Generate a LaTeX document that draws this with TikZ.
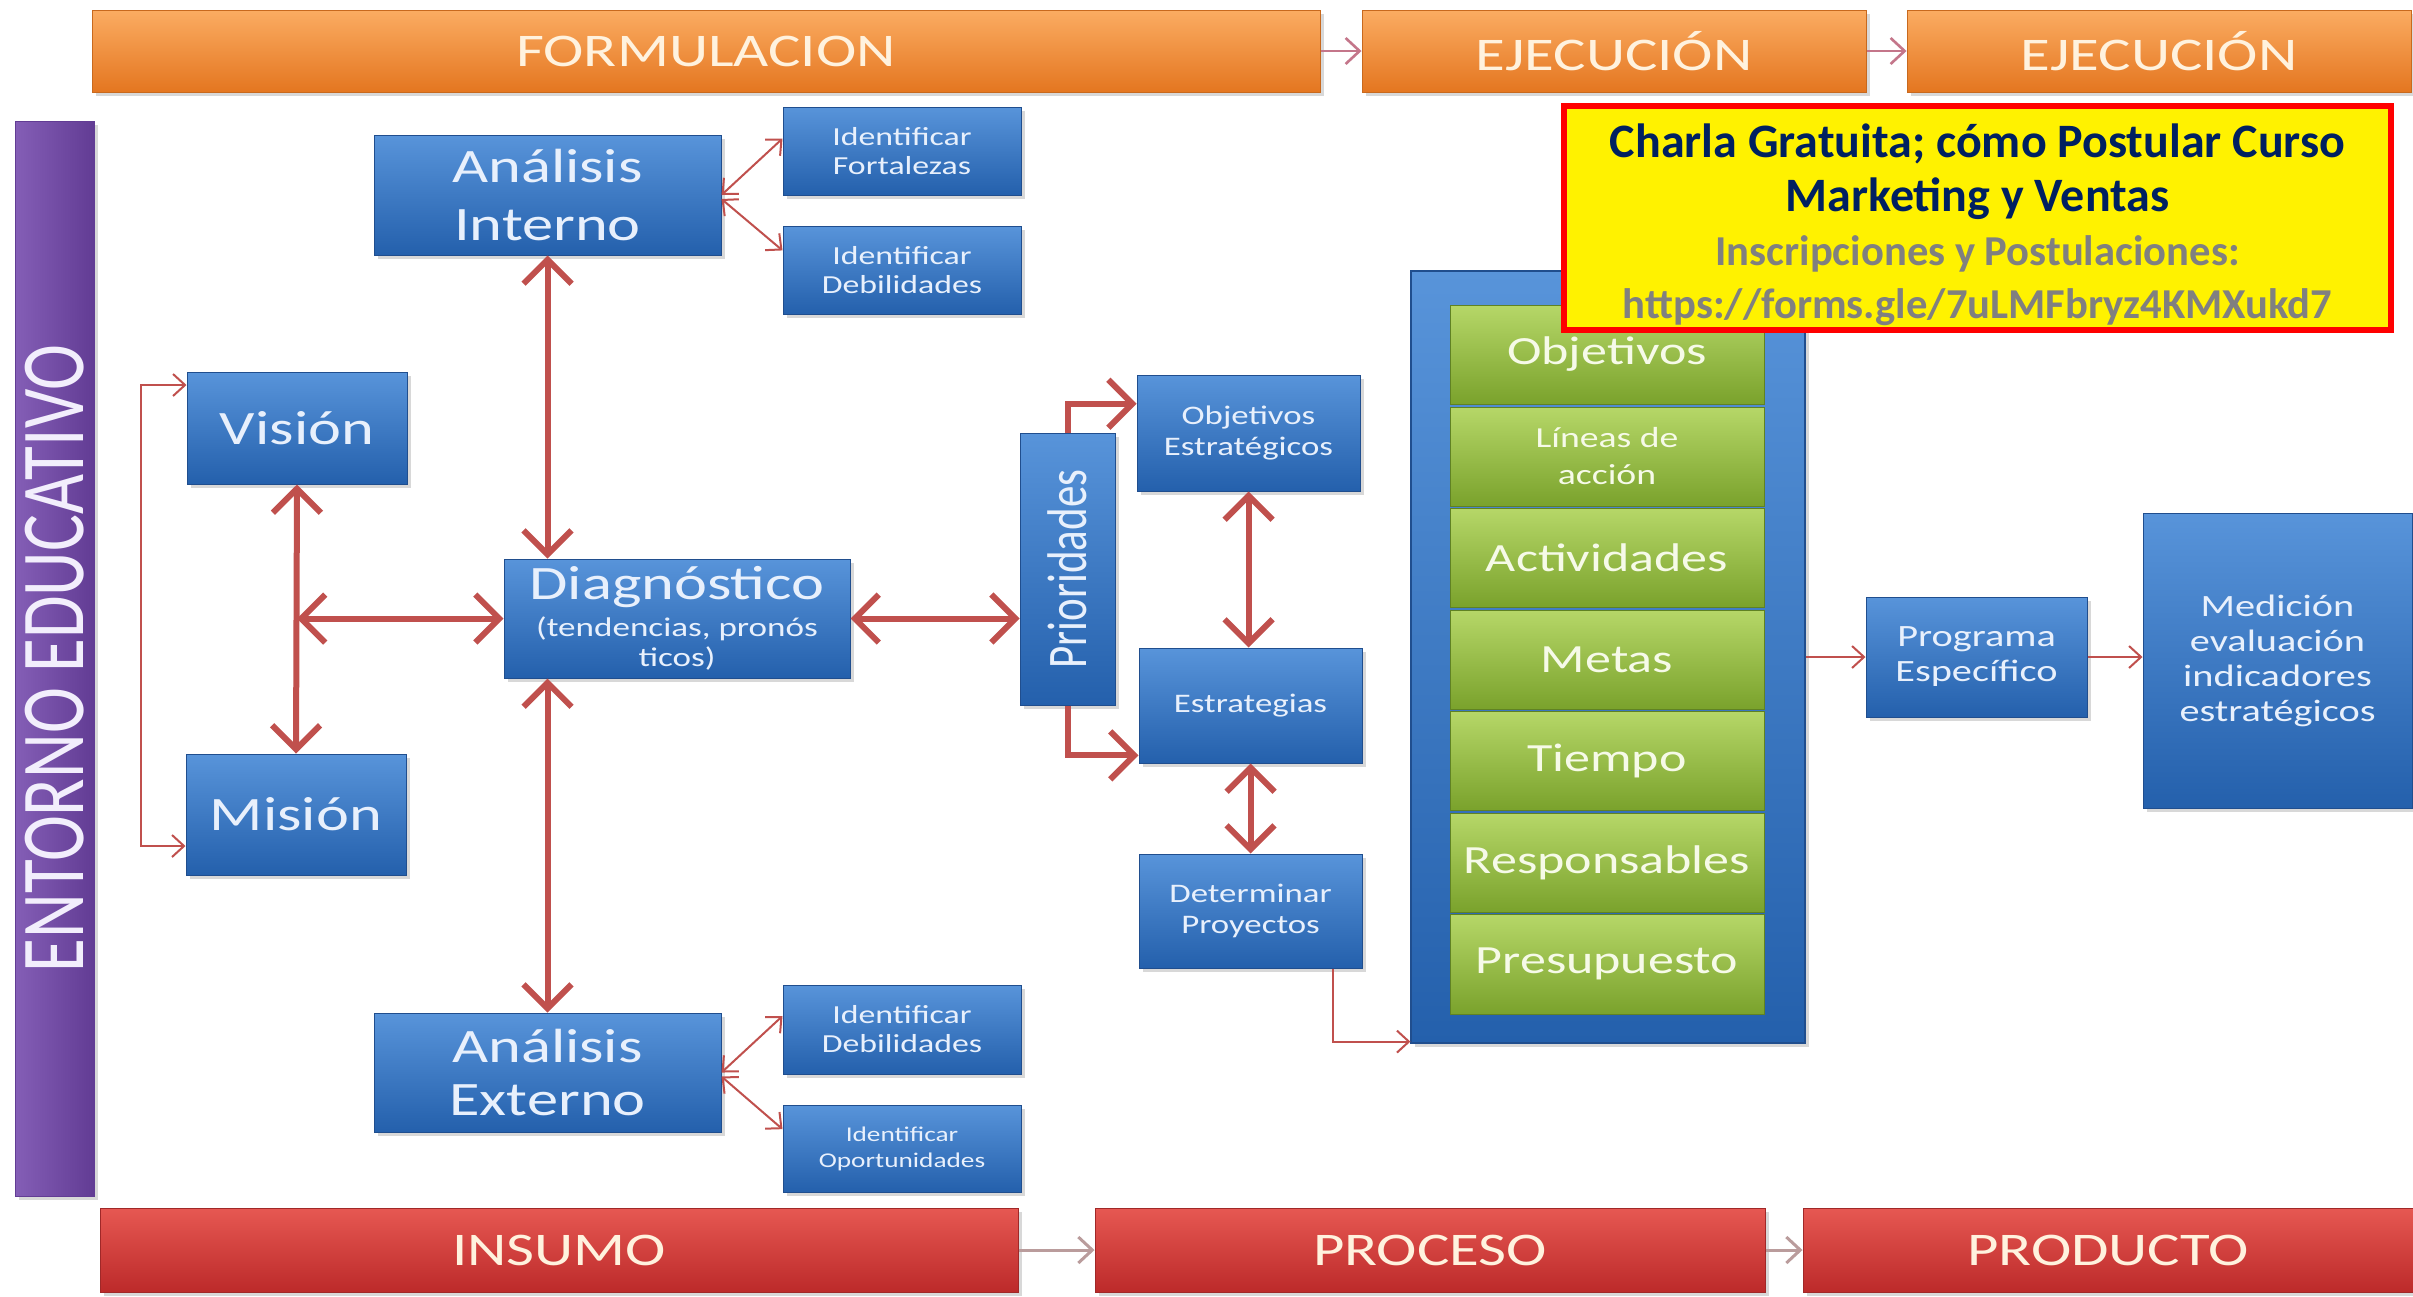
\documentclass[tikz,border=0pt]{standalone}
\usepackage{fontspec}
\usepackage{graphicx}
\setmainfont{Carlito}
\newfontfamily\stf{Carlito}[FakeStretch=1.3]
\usetikzlibrary{arrows.meta,shadows,calc}
\definecolor{orT}{RGB}{251,172,98}
\definecolor{orB}{RGB}{228,118,32}
\definecolor{orE}{RGB}{200,105,30}
\definecolor{blT}{RGB}{88,148,218}
\definecolor{blB}{RGB}{36,96,172}
\definecolor{blE}{RGB}{32,78,142}
\definecolor{grT}{RGB}{182,215,104}
\definecolor{grB}{RGB}{122,162,44}
\definecolor{grE}{RGB}{96,130,35}
\definecolor{rdT}{RGB}{230,88,82}
\definecolor{rdB}{RGB}{188,42,42}
\definecolor{rdE}{RGB}{160,40,40}
\definecolor{puL}{RGB}{132,94,182}
\definecolor{puR}{RGB}{98,60,148}
\definecolor{arr}{RGB}{192,80,77}
\definecolor{harr}{RGB}{196,118,138}
\definecolor{barr}{RGB}{186,156,156}
\definecolor{txt}{RGB}{232,240,252}
\definecolor{htxt}{RGB}{255,242,222}
\definecolor{gtxtc}{RGB}{246,250,232}
\definecolor{enttxt}{RGB}{242,238,252}
\definecolor{navy}{RGB}{0,32,96}
\definecolor{graytx}{RGB}{128,128,128}
\newcommand\fBig{\stf\fontsize{24}{29}\selectfont}
\newcommand\fSm{\stf\fontsize{13}{14.5}\selectfont}
\newcommand\fTn{\stf\fontsize{10.5}{13}\selectfont}
\newcommand\fMd{\stf\fontsize{13.4}{15.5}\selectfont}
\newcommand\fPr{\stf\fontsize{15.5}{17.5}\selectfont}
\newcommand\fHd{\stf\fontsize{23.4}{28}\selectfont}
\newcommand\fGr{\stf\fontsize{20}{24}\selectfont}
\newcommand\fLn{\stf\fontsize{14.5}{18.5}\selectfont}
\newcommand\mkbox[7]{\node[#6, minimum width={(#4-#2)*0.5pt}, minimum height={(#5-#3)*0.5pt}] (#1) at ({(#2+#4)/2},{(#3+#5)/2}) {#7};}
\tikzset{
  shd/.style={drop shadow={shadow xshift=2pt, shadow yshift=-2pt, opacity=0.3}},
  bluebox/.style={shd, draw=blE, line width=0.5pt, top color=blT, bottom color=blB, text=txt, align=center, inner sep=0pt},
  contbox/.style={shd, draw=blE, line width=0.6pt, top color=blT, bottom color=blB, inner sep=0pt},
  greenbox/.style={draw=grE, line width=0.4pt, top color=grT, bottom color=grB, text=gtxtc, align=center, inner sep=0pt, font=\fGr},
  orbar/.style={shd, draw=orE, line width=0.5pt, top color=orT, bottom color=orB, text=htxt, inner sep=0pt, font=\fHd},
  rdbar/.style={shd, draw=rdE, line width=0.5pt, top color=rdT, bottom color=rdB, text=htxt, inner sep=0pt, font=\fHd},
  pubar/.style={shd, draw=puR, line width=0.5pt, left color=puL, right color=puR, inner sep=0pt},
  adbox/.style={draw=red, line width=3pt, fill=yellow, align=center, inner sep=0pt},
  thk2/.style={draw=arr, line width=3pt, arrows={Straight Barb[length=12pt,width=24pt]-Straight Barb[length=12pt,width=24pt]}},
  thk1/.style={draw=arr, line width=3pt, arrows={-Straight Barb[length=12pt,width=24pt]}},
  thn2/.style={draw=arr, line width=1pt, arrows={Straight Barb[length=6pt,width=11pt]-Straight Barb[length=6pt,width=11pt]}},
  thn1/.style={draw=arr, line width=1pt, arrows={-Straight Barb[length=6pt,width=11pt]}},
  hdrarr/.style={draw=harr, line width=1.3pt, arrows={-Straight Barb[length=7pt,width=13pt]}},
  botarr/.style={draw=barr, line width=1.5pt, arrows={-Straight Barb[length=7pt,width=13pt]}}
}
\begin{document}
\begin{tikzpicture}[x=0.5pt,y=-0.5pt]
\useasboundingbox (0,0) rectangle (2413,1296);
\fill[white] (0,0) rectangle (2413,1296);
% header bars
\mkbox{form}{92}{10}{1320}{92}{orbar}{FORMULACION}
\mkbox{ejA}{1362}{10}{1866}{92}{orbar}{EJECUCIÓN}
\mkbox{ejB}{1907}{10}{2411}{92}{orbar}{EJECUCIÓN}
\draw[hdrarr] (form.east) -- (ejA.west);
\draw[hdrarr] (ejA.east) -- (ejB.west);
% bottom bars
\mkbox{ins}{100}{1208}{1018}{1292}{rdbar}{INSUMO}
\mkbox{pro}{1095}{1208}{1765}{1292}{rdbar}{PROCESO}
\mkbox{prd}{1803}{1208}{2413}{1292}{rdbar}{PRODUCTO}
\draw[botarr] (ins.east) -- (pro.west);
\draw[botarr] (pro.east) -- (prd.west);
% side bar
\mkbox{ent}{15}{121}{94}{1196}{pubar}{}
\node[rotate=90, text=enttxt, inner sep=0pt] (entl) at (ent.center) {\scalebox{1}[1.3]{\fontsize{34.6}{40}\selectfont ENTORNO EDUCATIVO}};
% left part
\mkbox{ai}{374}{135}{721}{255}{bluebox, font=\fBig}{Análisis\\Interno}
\mkbox{ifo}{783}{107}{1021}{195}{bluebox, font=\fSm}{Identificar\\Fortalezas}
\mkbox{ide}{783}{226}{1021}{314}{bluebox, font=\fSm}{Identificar\\Debilidades}
\mkbox{vis}{187}{372}{407}{484}{bluebox, font=\fBig}{Visión}
\mkbox{mis}{186}{754}{406}{875}{bluebox, font=\fBig}{Misión}
\mkbox{dia}{504}{559}{850}{678}{bluebox, font=\stf\fontsize{13.5}{15}\selectfont}{{\fBig Diagnóstico}\\[3.5pt](tendencias, pronós\\ticos)}
\mkbox{ae}{374}{1013}{721}{1132}{bluebox, font=\stf\fontsize{24}{26.5}\selectfont}{Análisis\\Externo}
\mkbox{ede}{783}{985}{1021}{1074}{bluebox, font=\fSm}{Identificar\\Debilidades}
\mkbox{eop}{783}{1105}{1021}{1192}{bluebox, font=\fTn}{Identificar\\Oportunidades}
% middle
\mkbox{pri}{1020}{433}{1115}{705}{bluebox}{}
\node[rotate=90, text=txt, inner sep=0pt] (pril) at (pri.center) {\scalebox{1}[1.3]{\fontsize{21.5}{24}\selectfont Prioridades}};
\mkbox{obj}{1137}{375}{1360}{491}{bluebox, font=\fMd}{Objetivos\\Estratégicos}
\mkbox{est}{1139}{648}{1362}{763}{bluebox, font=\fMd}{Estrategias}
\mkbox{dpr}{1139}{854}{1362}{968}{bluebox, font=\fMd}{Determinar\\Proyectos}
% container
\mkbox{cont}{1411}{271}{1805}{1043}{contbox}{}
\mkbox{r1}{1450}{305}{1764}{404}{greenbox}{Objetivos}
\mkbox{r2}{1450}{407}{1764}{506}{greenbox, font=\fLn}{Líneas de\\acción}
\mkbox{r3}{1450}{508}{1764}{607}{greenbox}{Actividades}
\mkbox{r4}{1450}{610}{1764}{709}{greenbox}{Metas}
\mkbox{r5}{1450}{711}{1764}{810}{greenbox}{Tiempo}
\mkbox{r6}{1450}{813}{1764}{912}{greenbox}{Responsables}
\mkbox{r7}{1450}{914}{1764}{1014}{greenbox}{Presupuesto}
% right
\mkbox{prg}{1866}{597}{2087}{717}{bluebox, font=\fPr}{Programa\\Específico}
\mkbox{med}{2143}{513}{2412}{808}{bluebox, font=\fPr}{Medición\\evaluación\\indicadores\\estratégicos}
% thick arrows
\draw[thk2] (vis.south) -- (mis.north);
\coordinate (vm) at (vis.south |- dia.west);
\draw[thk2] (vm) -- (dia.west);
\draw[thk2] (ai.south) -- (ai.south |- dia.north);
\draw[thk2] (ae.north) -- (ae.north |- dia.south);
\draw[thk2] (dia.east) -- (dia.east -| pri.west);
\draw[thk1] (pri.north) |- ($(obj.north west)!0.25!(obj.south west)$);
\draw[thk1] (pri.south) |- ($(est.north west)!0.93!(est.south west)$);
\draw[thk2] (obj.south) -- (obj.south |- est.north);
\draw[thk2] (est.south) -- (est.south |- dpr.north);
% thin arrows
\draw[thn1] ($(dpr.south west)!0.87!(dpr.south east)$) |- ([yshift=1pt]cont.south west);
\draw[thn1] (cont.east |- prg.west) -- (prg.west);
\draw[thn1] (prg.east) -- (prg.east -| med.west);
\draw[thn2] (ai.east) -- ($(ifo.north west)!0.36!(ifo.south west)$);
\draw[thn2] ([yshift=-2pt]ai.east) -- ($(ide.north west)!0.28!(ide.south west)$);
\draw[thn2] (ae.east) -- ($(ede.north west)!0.35!(ede.south west)$);
\draw[thn2] ([yshift=-2pt]ae.east) -- ($(eop.north west)!0.28!(eop.south west)$);
\coordinate (bk1) at (141,385);
\coordinate (bk2) at (141,846);
\draw[thn2] (vis.west |- bk1) -- (bk1) -- (bk2) -- (mis.west |- bk2);
% advert box
\mkbox{ad}{1564}{106}{2391}{330}{adbox, font=\bfseries\fontsize{24}{26.8}\selectfont}{{\color{navy}\rule{0pt}{24pt}Charla Gratuita; cómo Postular Curso}\\{\color{navy}Marketing y Ventas}\\{\fontsize{21.3}{26.8}\selectfont\color{graytx}Inscripciones y Postulaciones:}\\{\fontsize{21.3}{26.8}\selectfont\color{graytx}https://forms.gle/7uLMFbryz4KMXukd7}}
\end{tikzpicture}
\end{document}
